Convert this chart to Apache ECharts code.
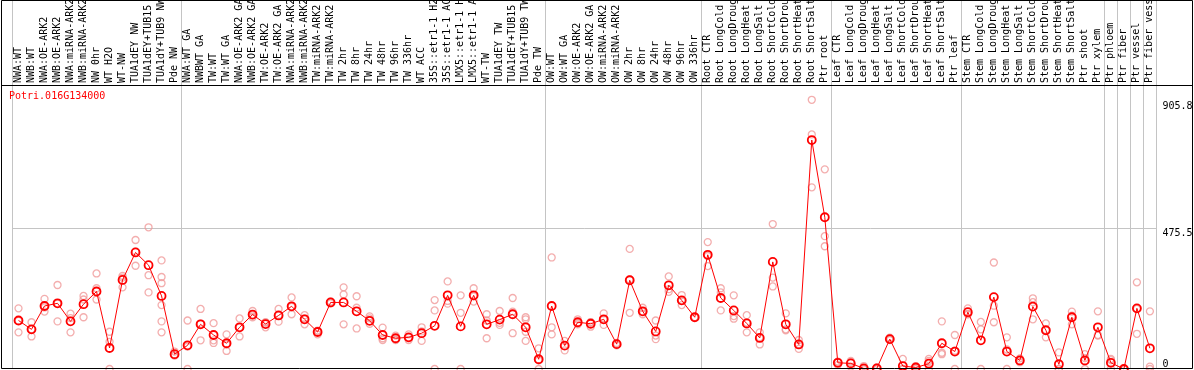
<!DOCTYPE html>
<html lang="en">

<head>
  <meta charset="UTF-8">
  <meta name="viewport" content="width=device-width, initial-scale=1.0">
  <title>Potri.016G134000</title>
  <script src="https://cdn.jsdelivr.net/npm/echarts@6/dist/echarts.min.js"></script>
</head>
<style>
  html,
  body {
    margin: 0;
    padding: 0;
    background: #fff;
  }

  .mychart {
    width: 1194px;
    height: 370px;
    overflow: hidden;
  }
</style>

<body>
  <div class="mychart"></div>
</body>
<script>
  const geneName = 'Potri.016G134000';

  const categories = [
    'NWA:WT', 'NWB:WT', 'NWA:OE-ARK2', 'NWB:OE-ARK2', 'NWA:miRNA-ARK2', 'NWB:miRNA-ARK2',
    'NW 0hr', 'WT H2O', 'WT-NW', 'TUA1dEY NW', 'TUA1dEY+TUB15 NW', 'TUA1dY+TUB9 NW', 'Pde NW',
    'NWA:WT GA', 'NWBWT GA', 'TW:WT', 'TW:WT GA', 'NWA:OE-ARK2 GA', 'NWB:OE-ARK2 GA',
    'TW:OE-ARK2', 'TW:OE-ARK2 GA', 'NWA:miRNA-ARK2 GA', 'NWB:miRNA-ARK2 GA', 'TW:miRNA-ARK2',
    'TW:miRNA-ARK2 GA', 'TW 2hr', 'TW 8hr', 'TW 24hr', 'TW 48hr', 'TW 96hr', 'TW 336hr', 'WT ACC',
    '35S::etr1-1 H2O', '35S::etr1-1 ACC', 'LMX5::etr1-1 H2O', 'LMX5::etr1-1 ACC', 'WT-TW',
    'TUA1dEY TW', 'TUA1dEY+TUB15 TW', 'TUA1dY+TUB9 TW', 'Pde TW',
    'OW:WT', 'OW:WT GA', 'OW:OE-ARK2', 'OW:OE-ARK2 GA', 'OW:miRNA-ARK2', 'OW:miRNA-ARK2 GA',
    'OW 2hr', 'OW 8hr', 'OW 24hr', 'OW 48hr', 'OW 96hr', 'OW 336hr',
    'Root CTR', 'Root LongCold', 'Root LongDrought', 'Root LongHeat', 'Root LongSalt',
    'Root ShortCold', 'Root ShortDrought', 'Root ShortHeat', 'Root ShortSalt', 'Ptr root',
    'Leaf CTR', 'Leaf LongCold', 'Leaf LongDrought', 'Leaf LongHeat', 'Leaf LongSalt',
    'Leaf ShortCold', 'Leaf ShortDrought', 'Leaf ShortHeat', 'Leaf ShortSalt', 'Ptr leaf',
    'Stem CTR', 'Stem LongCold', 'Stem LongDrought', 'Stem LongHeat', 'Stem LongSalt',
    'Stem ShortCold', 'Stem ShortDrought', 'Stem ShortHeat', 'Stem ShortSalt', 'Ptr shoot', 'Ptr xylem',
    'Ptr phloem',
    'Ptr fiber',
    'Ptr vessel',
    'Ptr fiber vessel',
  ];

  // index of the first sample of each tissue / experiment block
  const groupStarts = [0, 13, 41, 53, 63, 73, 84, 85, 86, 87];

  const means = [
    164, 134, 213, 222, 161, 219, 262, 71, 301, 394, 351, 247, 50,
    80, 151, 115, 87, 141, 184, 152, 181, 212, 168, 125, 225, 225, 195, 163, 115, 104, 107, 121,
    146, 249, 144, 249, 151, 167, 185, 141, 33,
    213, 79, 158, 153, 168, 84, 300, 195, 127, 283, 232, 175,
    386, 240, 198, 154, 105, 362, 151, 83, 774, 513,
    21, 19, 2, 2, 101, 10, 5, 18, 87, 59,
    192, 97, 243, 59, 29, 211, 131, 16, 175, 29, 141,
    21,
    0,
    205,
    70,
  ];

  const replicates = [
    [205, 124, 163], [158, 110, 134], [237, 194, 208], [284, 161, 221], [187, 124, 172],
    [247, 235, 175], [323, 273, 235], [126, 92, 0], [315, 309, 276], [436, 349, 397],
    [479, 317, 259], [367, 311, 290, 216, 161, 124], [59, 45, 47],
    [164, 0, 76], [203, 97, 153], [155, 97, 88], [117, 61, 83], [171, 110, 141],
    [196, 175, 181], [157, 141, 158], [203, 160, 181], [242, 185, 210], [182, 151, 171],
    [130, 117, 128], [225, 222, 228], [276, 252, 151], [246, 207, 137], [178, 153, 171],
    [140, 104, 98], [113, 98, 100], [117, 98, 106], [141, 95, 127], [233, 198, 0],
    [296, 221, 230], [249, 190, 0], [273, 228, 246], [185, 104, 164], [196, 149, 156],
    [240, 194, 121], [175, 168, 126, 95], [70, 0, 29],
    [377, 141, 117], [95, 63, 79], [168, 151, 155], [143, 158, 158], [188, 149, 167],
    [84, 80, 88], [406, 190, 303], [185, 193, 207], [164, 113, 101], [313, 270, 261],
    [250, 216, 230], [175, 175, 175],
    [429, 348, 382], [273, 259, 198], [249, 179, 170], [182, 124, 157], [124, 83, 107],
    [490, 309, 279], [188, 131, 134], [98, 68, 83], [910, 793, 614], [675, 449, 415],
    [25, 14, 24], [27, 8, 22], [10, 0, 0], [0, 0, 5], [106, 98, 99],
    [34, 0, 0], [10, 0, 5], [34, 27, 0], [161, 55, 50], [115, 0, 62],
    [205, 185, 186], [159, 134, 0], [360, 214, 158], [107, 66, 0], [36, 23, 28],
    [239, 168, 226], [154, 107, 132], [56, 0, 0], [194, 151, 180], [50, 0, 37], [195, 113, 115],
    [34, 0, 30],
    [0, 0, 0],
    [293, 119, 203],
    [195, 8, 0],
  ];

  const yTickLabels = [0, 475.5, 905.8];
  const yGridLines = [475.5];

  const mono = 'DejaVu Sans Mono';
  const sepColor = '#c4c4c4';

  const isGroupStart = (index) => groupStarts.indexOf(index) >= 0;

  const replicatePoints = [];
  replicates.forEach((reps, i) => {
    reps.forEach((v) => replicatePoints.push([i, v]));
  });

  const gridBox = { left: 12, right: 37.6, outerBoundsMode: 'none' };

  let myChart = window.echarts.init(document.querySelector('.mychart'));
  myChart.setOption({
    animation: false,
    backgroundColor: '#fff',
    title: {
      text: geneName,
      left: 9,
      top: 91,
      padding: 0,
      textStyle: { color: '#ff0000', fontFamily: mono, fontSize: 10, fontWeight: 'normal' },
    },
    grid: [
      { ...gridBox, top: 85, bottom: 1 },
      // header band: only carries the block separators behind the labels
      { ...gridBox, top: 0, height: 85 },
    ],
    xAxis: [
      {
        type: 'category',
        gridIndex: 0,
        position: 'top',
        data: categories,
        boundaryGap: true,
        axisLine: { show: false },
        axisTick: { show: false },
        axisLabel: {
          interval: 0,
          rotate: 90,
          margin: 2,
          color: '#000',
          fontFamily: mono,
          fontSize: 10,
        },
        splitLine: {
          show: true,
          interval: isGroupStart,
          lineStyle: { color: sepColor, width: 1 },
        },
      },
      {
        type: 'category',
        gridIndex: 1,
        data: categories,
        boundaryGap: true,
        axisLine: { show: false },
        axisTick: { show: false },
        axisLabel: { show: false },
        splitLine: {
          show: true,
          interval: isGroupStart,
          lineStyle: { color: sepColor, width: 1 },
        },
      },
    ],
    yAxis: [
      {
        type: 'value',
        gridIndex: 0,
        position: 'right',
        min: 0,
        max: 960,
        axisLine: { show: false },
        axisTick: { show: false, customValues: yGridLines },
        axisLabel: {
          customValues: yTickLabels,
          margin: 6,
          color: '#000',
          fontFamily: mono,
          fontSize: 10,
          verticalAlign: 'top',
          verticalAlignMinLabel: 'bottom',
        },
        splitLine: { show: true, lineStyle: { color: sepColor, width: 1 } },
      },
      { type: 'value', gridIndex: 1, show: false },
    ],
    graphic: [
      {
        type: 'rect',
        z: 100,
        silent: true,
        shape: { x: 1.5, y: 0.5, width: 1191, height: 368 },
        style: { fill: 'none', stroke: '#000', lineWidth: 1 },
      },
      {
        type: 'line',
        z: 100,
        silent: true,
        shape: { x1: 1, y1: 85.5, x2: 1193, y2: 85.5 },
        style: { stroke: '#000', lineWidth: 1 },
      },
    ],
    series: [
      {
        name: 'replicates',
        type: 'scatter',
        xAxisIndex: 0,
        yAxisIndex: 0,
        symbol: 'circle',
        symbolSize: 7,
        itemStyle: { color: 'rgba(0,0,0,0)', borderColor: '#f09a9a', borderWidth: 1.3 },
        data: replicatePoints,
        z: 2,
      },
      {
        name: 'mean',
        type: 'line',
        xAxisIndex: 0,
        yAxisIndex: 0,
        data: means,
        symbol: 'circle',
        symbolSize: 8,
        showAllSymbol: true,
        lineStyle: { color: '#ff0000', width: 1 },
        itemStyle: { color: 'rgba(0,0,0,0)', borderColor: '#ff0000', borderWidth: 1.8 },
        z: 3,
      },
    ],
  });
</script>

</html>
